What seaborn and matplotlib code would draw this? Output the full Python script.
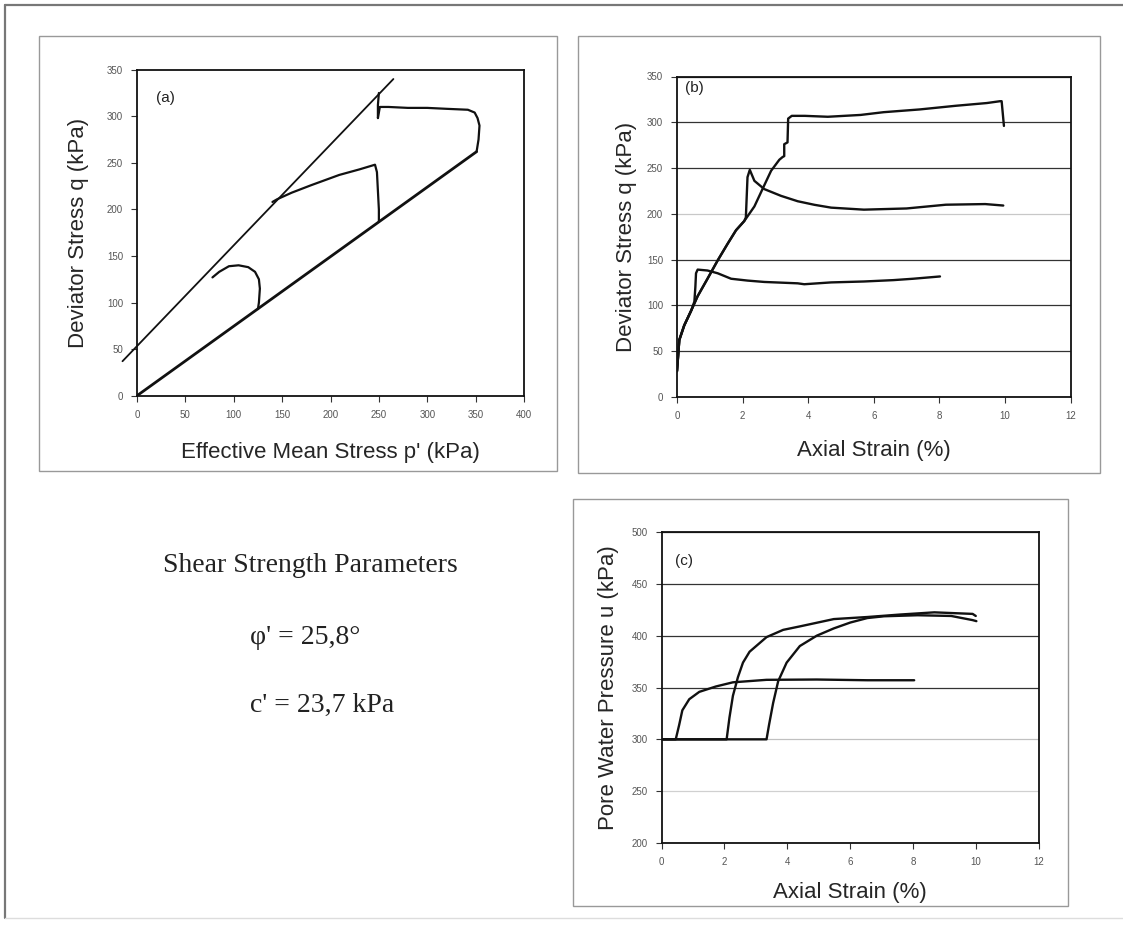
import matplotlib
matplotlib.use("Agg")
import matplotlib.pyplot as plt
import seaborn as sns
from matplotlib.patches import Rectangle

# (a) effective stress paths, p' and q in kPa
k_line_p = [0, 351]
k_line_q = [0, 262]
fail_line_p = [-15, 265]
fail_line_q = [37, 340]

path1_p = [125, 126, 127, 126, 122, 115, 105, 95, 85, 78]
path1_q = [93, 100, 115, 125, 133, 138, 140, 139, 133, 127]

path2_p = [250, 250, 249, 248, 246, 230, 209, 180, 160, 145, 140]
path2_q = [187, 200, 220, 240, 248, 243, 237, 226, 218, 211, 208]

path3_p = [351, 353, 354, 352, 349, 342, 320, 300, 280, 260, 251, 249, 249, 250]
path3_q = [262, 275, 290, 298, 304, 307, 308, 309, 309, 310, 310, 298, 312, 325]

# (b) deviator stress vs axial strain
dev1_strain = [0, 0.07, 0.22, 0.43, 0.53, 0.56, 0.58, 0.63, 0.93, 1.24, 1.65, 2.15, 2.66,
               3.68, 3.88, 4.7, 5.7, 6.6, 7.2, 8.02]
dev1_q = [28, 62, 78, 94, 104, 120, 135, 139, 138, 135, 129, 127, 125.5,
          124, 123, 125, 126, 127.5, 129, 131.5]

dev2_strain = [0, 0.07, 0.22, 0.43, 0.63, 0.93, 1.24, 1.54, 1.8, 2.05, 2.1, 2.15, 2.22,
               2.36, 2.66, 3.17, 3.68, 4.19, 4.7, 5.7, 7.0, 8.2, 9.4, 9.95]
dev2_q = [28, 62, 78, 94, 110, 129, 149, 167, 182, 192, 196, 240, 248,
          236, 227, 219.6, 213.7, 209.8, 206.7, 204.5, 205.8, 209.9, 210.6, 209]

dev3_strain = [0, 0.07, 0.22, 0.43, 0.63, 0.93, 1.24, 1.54, 1.8, 2.05, 2.36, 2.66, 2.87,
               3.12, 3.22, 3.27, 3.27, 3.37, 3.39, 3.5, 3.9, 4.6, 5.6, 6.3, 7.4, 8.5,
               9.45, 9.85, 9.9, 9.97]
dev3_q = [28, 62, 78, 94, 110, 129, 149, 167, 182, 192, 208, 231, 247,
          259, 262, 263, 276, 278, 304, 307, 307, 306, 308, 311, 314, 318,
          321, 323, 323, 296]

# (c) pore water pressure vs axial strain
pwp1_strain = [0, 0.45, 0.56, 0.66, 0.88, 1.2, 1.73, 2.27, 3.34, 4.94, 6.55, 8.04]
pwp1_u = [300, 300, 314, 328, 338.7, 345.8, 351, 355, 357.4, 357.7, 357, 357]

pwp2_strain = [0, 2.07, 2.16, 2.27, 2.43, 2.59, 2.8, 3.34, 3.87, 4.41, 5.48, 6.55,
               7.6, 8.68, 9.9, 10.0]
pwp2_u = [300, 300, 321, 342, 360, 374, 384.5, 398.6, 405.6, 409, 416, 418,
          420.4, 422.5, 421, 419]

pwp3_strain = [0, 3.34, 3.42, 3.55, 3.71, 3.98, 4.4, 4.94, 5.48, 6.01, 6.55, 7.08,
               8.15, 9.22, 9.9, 10.02]
pwp3_u = [300, 300, 314, 335, 356, 374, 390, 400, 407, 412.7, 417, 418.7,
          419.7, 419, 415, 414]

params_title = "Shear Strength Parameters"
phi_text = "φ' = 25,8°"
c_text = "c' = 23,7 kPa"

sns.set_style("white")
plt.rcParams['font.family'] = ['Liberation Sans', 'DejaVu Sans']

W, H = 1123, 931
fig = plt.figure(figsize=(W / 100, H / 100), dpi=100)


def px_rect(x0, y0, x1, y1, **kw):
    fig.add_artist(Rectangle((x0 / W, (H - y1) / H), (x1 - x0) / W, (y1 - y0) / H,
                             transform=fig.transFigure, fill=False, **kw))


# scanned page frames
fig.add_artist(plt.Line2D([5 / W, 1], [1 - 5 / H] * 2, transform=fig.transFigure, color="#777", lw=1.6))
fig.add_artist(plt.Line2D([5 / W] * 2, [1 - 5 / H, 1 - 918 / H], transform=fig.transFigure, color="#777", lw=1.6))
fig.add_artist(plt.Line2D([5 / W, 1], [1 - 918 / H] * 2, transform=fig.transFigure, color="#ddd", lw=1.0))
px_rect(39, 36, 557, 471, edgecolor="#999", lw=1.0)
px_rect(578, 36, 1100, 473, edgecolor="#999", lw=1.0)
px_rect(573, 499, 1068, 906, edgecolor="#999", lw=1.0)

line_kw = dict(color="#111", sort=False, estimator=None)


def style_axes(ax, xticks, yticks):
    ax.set_xticks(xticks)
    ax.set_yticks(yticks)
    ax.tick_params(direction="out", length=4, width=0.8, labelsize=7, colors="#333",
                   labelcolor="#555", pad=6, bottom=True, left=True)
    for s in ax.spines.values():
        s.set_visible(True)
        s.set_color("#111")
        s.set_linewidth(1.3)


# ---- (a)
ax_a = fig.add_axes([137 / W, (H - 395.7) / H, 387 / W, 326 / H])
sns.lineplot(x=k_line_p, y=k_line_q, ax=ax_a, lw=2.0, **line_kw)
sns.lineplot(x=fail_line_p, y=fail_line_q, ax=ax_a, lw=1.3, **line_kw)
ax_a.lines[-1].set_clip_on(False)
for pp, qq in [(path1_p, path1_q), (path2_p, path2_q), (path3_p, path3_q)]:
    sns.lineplot(x=pp, y=qq, ax=ax_a, lw=1.6, **line_kw)
ax_a.set_xlim(0, 400)
ax_a.set_ylim(0, 350)
style_axes(ax_a, range(0, 401, 50), range(0, 351, 50))
ax_a.set_xlabel("Effective Mean Stress p' (kPa)", fontsize=16, labelpad=16)
ax_a.set_ylabel("Deviator Stress q (kPa)", fontsize=16, labelpad=13)
ax_a.text(0.05, 0.935, "(a)", transform=ax_a.transAxes, fontsize=11, va="top", color="#222")

# ---- (b)
ax_b = fig.add_axes([677 / W, (H - 396.8) / H, 393.5 / W, 320.3 / H])
ax_b.grid(axis="y", color="#333", lw=0.9)
for ss, qq in [(dev1_strain, dev1_q), (dev2_strain, dev2_q), (dev3_strain, dev3_q)]:
    sns.lineplot(x=ss, y=qq, ax=ax_b, lw=1.7, **line_kw)
ax_b.set_xlim(0, 12)
ax_b.set_ylim(0, 350)
style_axes(ax_b, range(0, 13, 2), range(0, 351, 50))
ax_b.get_ygridlines()[4].set_color("#c8c8c8")
ax_b.set_xlabel("Axial Strain (%)", fontsize=16, labelpad=14)
ax_b.set_ylabel("Deviator Stress q (kPa)", fontsize=16, labelpad=7)
ax_b.text(0.02, 0.985, "(b)", transform=ax_b.transAxes, fontsize=11, va="top", color="#222")

# ---- (c)
ax_c = fig.add_axes([661.6 / W, (H - 843) / H, 377 / W, 311 / H])
ax_c.grid(axis="y", color="#333", lw=0.9)
for ss, uu in [(pwp1_strain, pwp1_u), (pwp2_strain, pwp2_u), (pwp3_strain, pwp3_u)]:
    sns.lineplot(x=ss, y=uu, ax=ax_c, lw=1.7, **line_kw)
ax_c.set_xlim(0, 12)
ax_c.set_ylim(200, 500)
style_axes(ax_c, range(0, 13, 2), range(200, 501, 50))
ax_c.get_ygridlines()[1].set_color("#d0d0d0")
ax_c.get_ygridlines()[2].set_color("#c0c0c0")
ax_c.set_xlabel("Axial Strain (%)", fontsize=16, labelpad=11)
ax_c.set_ylabel("Pore Water Pressure u (kPa)", fontsize=16, labelpad=9)
ax_c.text(0.035, 0.93, "(c)", transform=ax_c.transAxes, fontsize=11, va="top", color="#222")

# ---- shear strength text
serif = ['Liberation Serif', 'DejaVu Serif']
fig.text(310 / W, 1 - 566 / H, params_title, family=serif, fontsize=20, ha="center", va="center", color="#222")
fig.text(250 / W, 1 - 638 / H, phi_text, family=serif, fontsize=20, ha="left", va="center", color="#222")
fig.text(250 / W, 1 - 705 / H, c_text, family=serif, fontsize=20, ha="left", va="center", color="#222")

fig.savefig("out.png", dpi=100, facecolor="white")
